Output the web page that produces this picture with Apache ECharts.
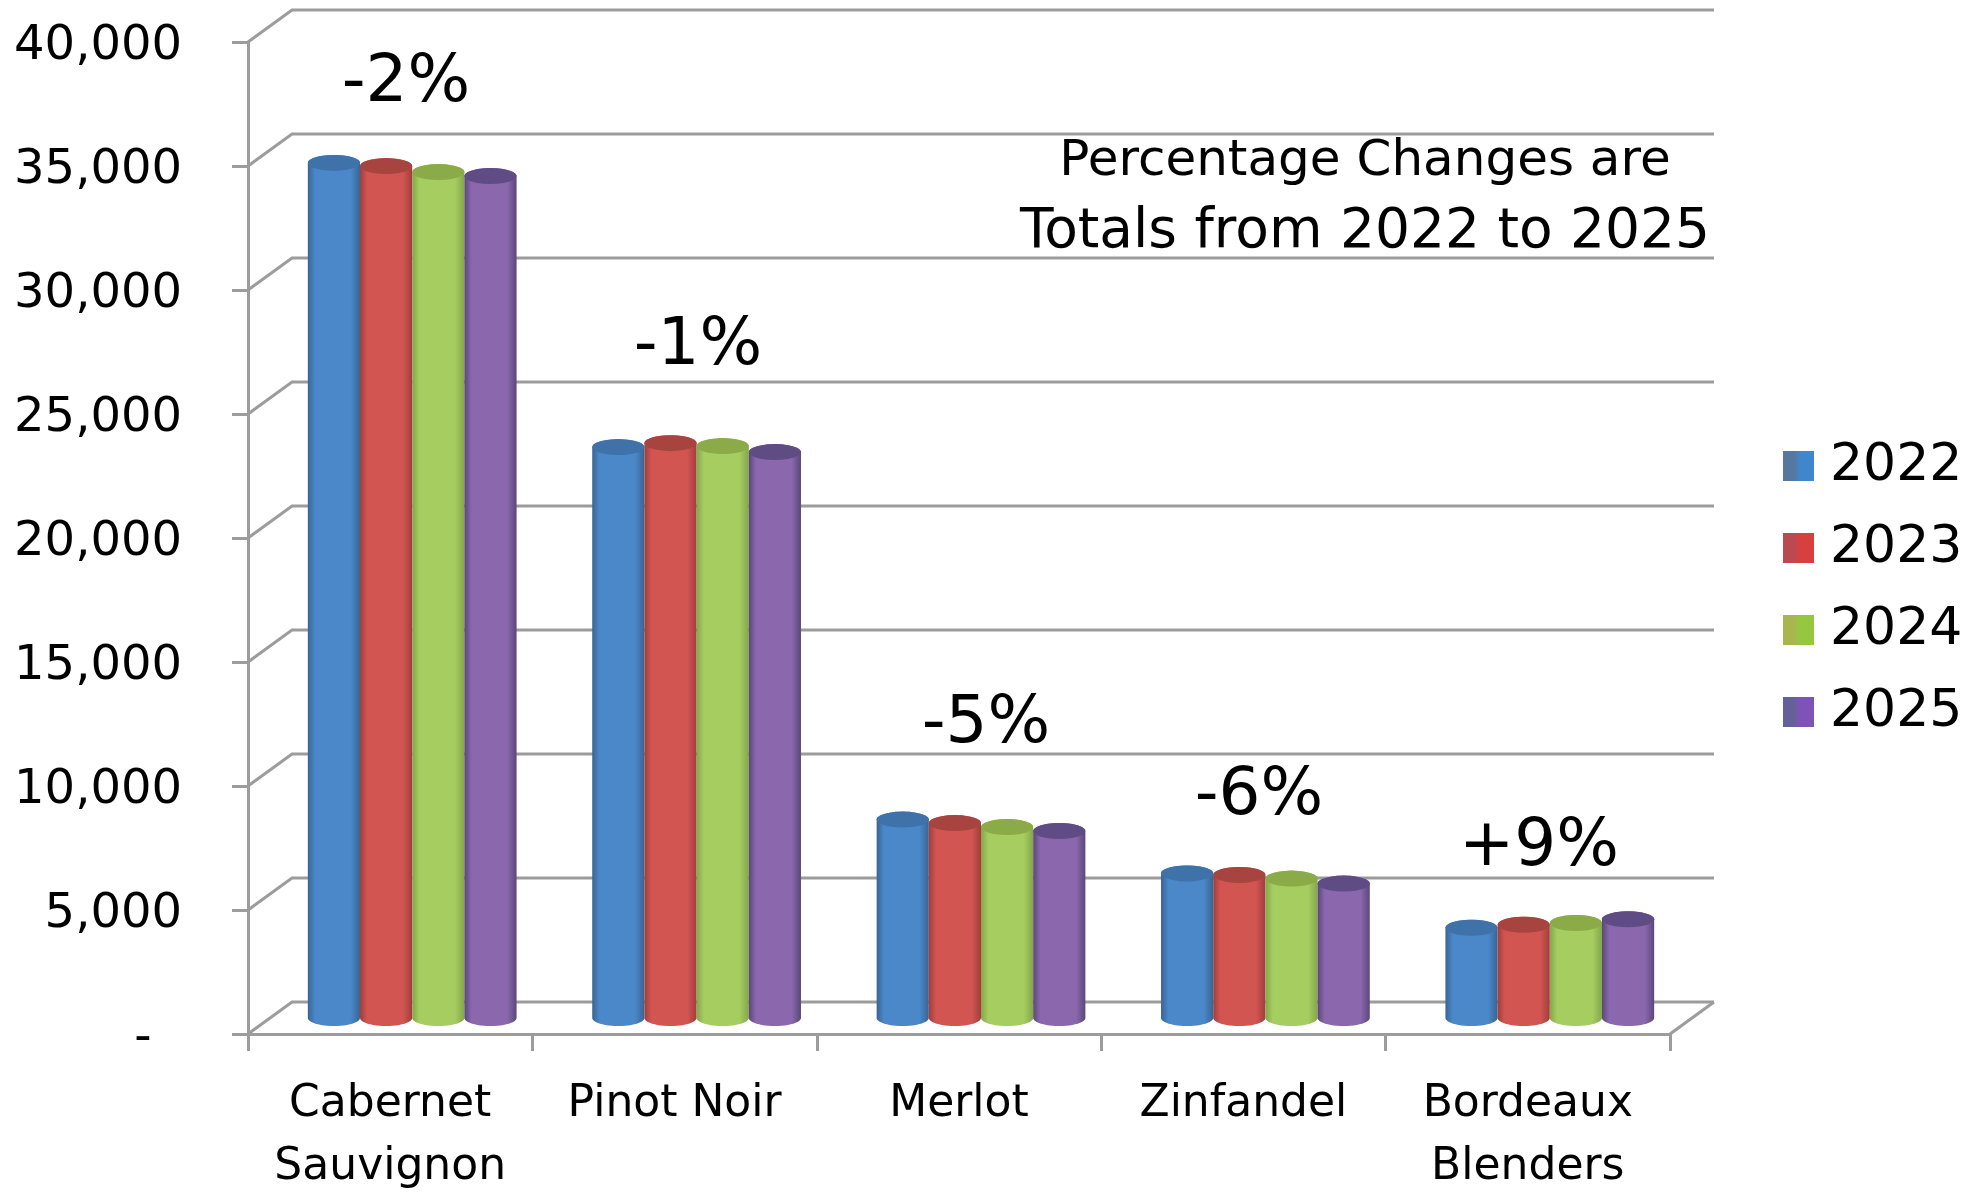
<!DOCTYPE html>
<html>
<head>
<meta charset="utf-8">
<style>html,body{margin:0;padding:0;background:#fff}#c{width:1972px;height:1196px}</style>
<script src="https://cdn.jsdelivr.net/npm/echarts@6/dist/echarts.min.js"></script>
</head>
<body>
<div id="c"></div>
<script>
const categories = ['Cabernet\nSauvignon', 'Pinot Noir', 'Merlot', 'Zinfandel', 'Bordeaux\nBlenders'];
const years = ['2022', '2023', '2024', '2025'];
const values2022 = [34480, 23020, 8000, 5830, 3640];
const values2023 = [34350, 23180, 7860, 5770, 3760];
const values2024 = [34110, 23060, 7700, 5620, 3830];
const values2025 = [33950, 22820, 7540, 5420, 3980];
const yTicks = [0, 5000, 10000, 15000, 20000, 25000, 30000, 35000, 40000];
const pctLabels = ['-2%', '-1%', '-5%', '-6%', '+9%'];
const noteLines = ['Percentage Changes are', 'Totals from 2022 to 2025'];

const FONT = '"DejaVu Sans", sans-serif';
const GREY = '#9c9c9c';
const DX = 44, DY = -32;         // depth of the 3D box
const palettes = [
  {edge:'#3a6493', mid:'#4a88c9', top:'#3f72a8', swA:'#56789f', swB:'#3f86cc'},
  {edge:'#a03e3b', mid:'#d25552', top:'#a84440', swA:'#bb4a50', swB:'#d8403f'},
  {edge:'#84a64a', mid:'#a5cd60', top:'#8aab48', swA:'#a9b64e', swB:'#95c83f'},
  {edge:'#5b4779', mid:'#8b68ae', top:'#5f4c85', swA:'#66609a', swB:'#7e52b8'}
];
const allValues = [values2022, values2023, values2024, values2025];

function halfEllipse(cx, cy, rx, ry, from, to) {
  const pts = [], n = 24;
  for (let i = 0; i <= n; i++) {
    const t = from + (to - from) * i / n;
    pts.push([cx + rx * Math.cos(t), cy + ry * Math.sin(t)]);
  }
  return pts;
}

function cylinderRenderer(seriesIndex) {
  const p = palettes[seriesIndex];
  return function (params, api) {
    const cat = api.value(0), val = api.value(1);
    const band = api.size([1, 0])[0];
    const w = band * 0.1835, rx = w / 2, ry = 8;
    const top = api.coord([cat, val]), base = api.coord([cat, 0]);
    const cx = top[0] + DX / 2 + (seriesIndex - 1.5) * w;
    const yTop = top[1] + DY / 2, yBase = base[1] + DY / 2;
    const body = halfEllipse(cx, yTop, rx, ry, Math.PI, 2 * Math.PI)
      .concat(halfEllipse(cx, yBase, rx, ry, 0, Math.PI));
    const cap = halfEllipse(cx, yTop, rx, ry, 0, 2 * Math.PI);
    const grad = new echarts.graphic.LinearGradient(0, 0, 1, 0, [
      {offset: 0, color: p.edge}, {offset: 0.14, color: p.mid},
      {offset: 0.82, color: p.mid}, {offset: 1, color: p.edge}
    ]);
    return {type: 'group', children: [
      {type: 'polygon', shape: {points: body}, style: {fill: grad}},
      {type: 'polygon', shape: {points: cap}, style: {fill: p.top}}
    ]};
  };
}

function wallRenderer(params, api) {
  const v = api.value(1);
  const band = api.size([1, 0])[0];
  const a = api.coord([0, v]), b = api.coord([categories.length - 1, v]);
  const x0 = a[0] - band / 2, x1 = b[0] + band / 2, y = a[1];
  const style = {stroke: GREY, lineWidth: 3, fill: null};
  const kids = [{type: 'polyline', shape: {points: [[x0, y], [x0 + DX, y + DY], [x1 + DX, y + DY]]}, style}];
  if (v === 0) kids.push({type: 'polyline', shape: {points: [[x1, y], [x1 + DX, y + DY]]}, style});
  return {type: 'group', children: kids};
}

const series = [{
  type: 'custom', name: 'walls', silent: true, z: 1,
  coordinateSystem: 'cartesian2d',
  renderItem: wallRenderer,
  data: yTicks.map(v => [0, v]),
  encode: {x: 0, y: 1}
}];
years.forEach((y, i) => {
  const p = palettes[i];
  series.push({
    type: 'custom', name: y, z: 3 + i,
    coordinateSystem: 'cartesian2d',
    renderItem: cylinderRenderer(i),
    itemStyle: {color: new echarts.graphic.LinearGradient(0, 0, 1, 0, [
      {offset: 0, color: p.swA}, {offset: 0.35, color: p.swA}, {offset: 0.55, color: p.swB}, {offset: 1, color: p.swB}
    ])},
    data: categories.map((c, k) => [k, allValues[i][k]]),
    encode: {x: 0, y: 1}
  });
});

const pctPlaces = [[406, 84], [698, 347], [986, 725], [1259, 797], [1539, 848]];
const graphicEls = pctLabels.map((t, i) => ({
  type: 'text', x: pctPlaces[i][0], y: pctPlaces[i][1], z: 20, silent: true,
  style: {text: t, font: '66px ' + FONT, fill: '#000', align: 'center', verticalAlign: 'middle'}
}));
graphicEls.push({
  type: 'text', x: 1365, y: 162, z: 20, silent: true,
  style: {text: noteLines[0], font: '50px ' + FONT, fill: '#000', align: 'center', verticalAlign: 'middle'}
});
graphicEls.push({
  type: 'text', x: 1365, y: 233, z: 20, silent: true,
  style: {text: noteLines[1], font: '55px ' + FONT, fill: '#000', align: 'center', verticalAlign: 'middle'}
});

const chart = echarts.init(document.getElementById('c'), null, {renderer: 'canvas'});
chart.setOption({
  animation: false,
  backgroundColor: '#fff',
  grid: {left: 248, right: 302, top: 42, bottom: 162, containLabel: false, outerBoundsMode: 'none'},
  legend: {
    data: years, orient: 'vertical', left: 1778, top: 431,
    icon: 'rect', itemWidth: 31, itemHeight: 30, itemGap: 22,
    textStyle: {fontFamily: FONT, fontSize: 52, color: '#000', lineHeight: 60, padding: [0, 0, 0, 11]},
    selectedMode: false
  },
  xAxis: {
    type: 'category', data: categories, boundaryGap: true,
    axisLine: {lineStyle: {color: GREY, width: 3}},
    axisTick: {show: true, length: 17, lineStyle: {color: GREY, width: 3}},
    axisLabel: {fontFamily: FONT, fontSize: 44, color: '#000', lineHeight: 63, margin: 39, interval: 0}
  },
  yAxis: {
    type: 'value', min: 0, max: 40000, interval: 5000,
    splitLine: {show: false},
    axisLine: {show: true, lineStyle: {color: GREY, width: 3}},
    axisTick: {show: true, length: 16, lineStyle: {color: GREY, width: 3}},
    axisLabel: {
      fontFamily: FONT, fontSize: 48, color: '#000', margin: 66, verticalAlign: 'top', lineHeight: 10,
      formatter: v => v === 0 ? '-  ' : v.toLocaleString('en-US')
    }
  },
  graphic: graphicEls,
  series
});
</script>
</body>
</html>
